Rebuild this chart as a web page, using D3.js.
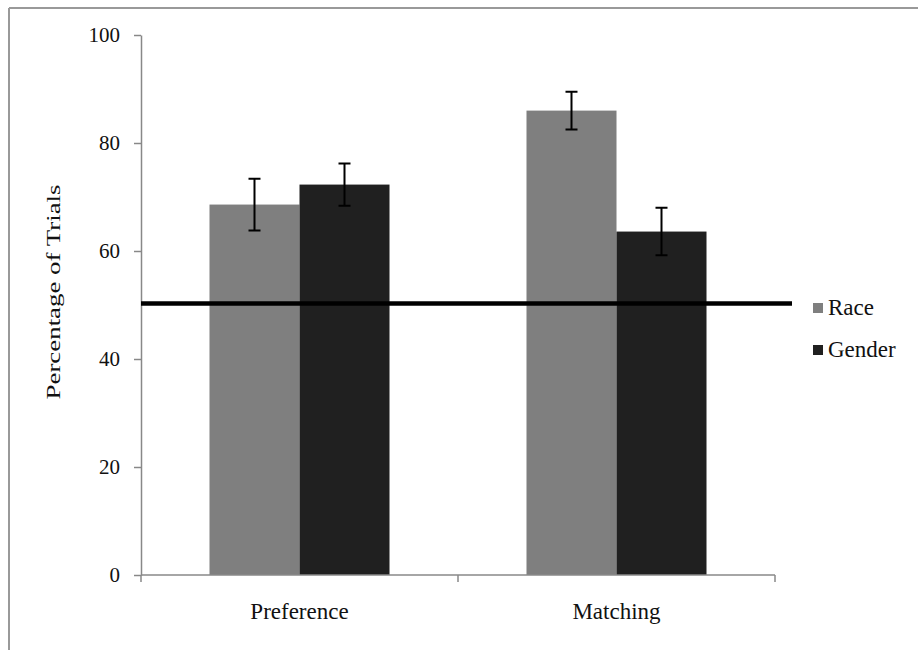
<!DOCTYPE html>
<html>
<head>
<meta charset="utf-8">
<script src="https://cdn.jsdelivr.net/npm/d3@7"></script>
<style>
  body { margin: 0; background: #fff; }
  svg { display: block; }
  text { font-family: "Liberation Serif", "Times New Roman", serif; }
</style>
</head>
<body>
<svg id="chart" width="918" height="650"></svg>
<script>
const categories = ["Preference", "Matching"];
const series = ["Race", "Gender"];
const raceValues = [68.6, 86.0];
const genderValues = [72.3, 63.6];
const raceErrors = [4.8, 3.5];
const genderErrors = [3.9, 4.4];
const yTicks = [0, 20, 40, 60, 80, 100];
const chanceLevel = 50;

const width = 918, height = 650;
const margin = {top: 35, right: 143, bottom: 75, left: 141};
const colors = {"Race": "#7f7f7f", "Gender": "#202020"};
const serif = "Liberation Serif, Times New Roman, serif";

const svg = d3.select("#chart");

svg.append("rect").attr("width", width).attr("height", height).attr("fill", "#fff");

// outer frame (only top and left edges show)
svg.append("line").attr("x1", 9).attr("x2", width).attr("y1", 8).attr("y2", 8)
    .attr("stroke", "#999").attr("stroke-width", 2);
svg.append("line").attr("x1", 9).attr("x2", 9).attr("y1", 8).attr("y2", height)
    .attr("stroke", "#999").attr("stroke-width", 2);

const x0 = d3.scaleBand().domain(categories)
    .range([margin.left, width - margin.right]).paddingInner(0).paddingOuter(0);
const x1 = d3.scaleBand().domain(series)
    .range([0, x0.bandwidth()]).paddingInner(0).paddingOuter(0.761);
const y = d3.scaleLinear().domain([0, 100]).range([height - margin.bottom, margin.top]);

const rows = categories.map((c, i) => ({
    category: c,
    values: [
        {key: "Race", value: raceValues[i], err: raceErrors[i]},
        {key: "Gender", value: genderValues[i], err: genderErrors[i]}
    ]
}));

const groups = svg.append("g").selectAll("g")
    .data(rows)
    .join("g")
    .attr("transform", d => `translate(${x0(d.category)},0)`);

groups.selectAll("rect")
    .data(d => d.values)
    .join("rect")
    .attr("x", d => x1(d.key))
    .attr("y", d => y(d.value))
    .attr("width", x1.bandwidth())
    .attr("height", d => y(0) - y(d.value))
    .attr("fill", d => colors[d.key]);

// error bars
const capW = 6;
groups.selectAll(".err")
    .data(d => d.values)
    .join("path")
    .attr("class", "err")
    .attr("fill", "none")
    .attr("stroke", "#000")
    .attr("stroke-width", 2)
    .attr("d", d => {
        const cx = x1(d.key) + x1.bandwidth() / 2;
        const t = y(d.value + d.err), b = y(d.value - d.err);
        return `M${cx - capW},${t}H${cx + capW}M${cx},${t}V${b}M${cx - capW},${b}H${cx + capW}`;
    });

// y axis
const yAxis = svg.append("g")
    .attr("transform", `translate(${margin.left},0)`)
    .call(d3.axisLeft(y).tickValues(yTicks).tickSize(7).tickPadding(14).tickSizeOuter(0))
    .attr("font-family", serif)
    .attr("font-size", 21);
yAxis.select(".domain").attr("stroke", "#888").attr("stroke-width", 1.5);
yAxis.selectAll(".tick line").attr("stroke", "#888").attr("stroke-width", 1.5);
yAxis.selectAll("text").attr("fill", "#111");

// x axis with tick marks at band edges
const xAxis = svg.append("g")
    .attr("transform", `translate(0,${y(0)})`);
xAxis.append("line")
    .attr("x1", x0.range()[0]).attr("x2", x0.range()[1])
    .attr("stroke", "#888").attr("stroke-width", 1.5);
xAxis.selectAll(".edge")
    .data(categories.map(c => x0(c)).concat([x0.range()[1]]))
    .join("line")
    .attr("class", "edge")
    .attr("x1", d => d).attr("x2", d => d)
    .attr("y1", 0).attr("y2", 7)
    .attr("stroke", "#888").attr("stroke-width", 1.5);
xAxis.selectAll(".cat")
    .data(categories)
    .join("text")
    .attr("class", "cat")
    .attr("x", d => x0(d) + x0.bandwidth() / 2)
    .attr("y", 44)
    .attr("text-anchor", "middle")
    .attr("fill", "#111")
    .attr("font-family", serif)
    .attr("font-size", 23)
    .text(d => d);

// chance line
svg.append("line")
    .attr("x1", x0.range()[0])
    .attr("x2", x0.range()[1] + 17)
    .attr("y1", y(chanceLevel) - 1.5)
    .attr("y2", y(chanceLevel) - 1.5)
    .attr("stroke", "#000")
    .attr("stroke-width", 4.5);

// y axis title
svg.append("text")
    .attr("transform", `translate(60,${(y(0) + y(100)) / 2 - 13}) rotate(-90)`)
    .attr("text-anchor", "middle")
    .attr("fill", "#111")
    .attr("font-family", serif)
    .attr("font-size", 18)
    .attr("textLength", 215)
    .attr("lengthAdjust", "spacingAndGlyphs")
    .text("Percentage of Trials");

// legend
const legend = svg.append("g")
    .selectAll("g")
    .data(series)
    .join("g")
    .attr("transform", (d, i) => `translate(813,${303 + i * 42})`);
legend.append("rect")
    .attr("width", 10).attr("height", 10)
    .attr("fill", d => colors[d]);
legend.append("text")
    .attr("x", 15)
    .attr("y", 12)
    .attr("fill", "#111")
    .attr("font-family", serif)
    .attr("font-size", 23)
    .text(d => d);
</script>
</body>
</html>
